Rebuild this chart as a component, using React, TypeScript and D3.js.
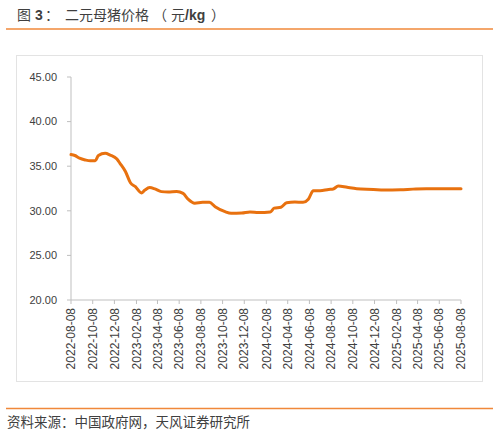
import React from "react";
import * as d3 from "d3";

const dates: string[] = [
  "2022-08-08","2022-08-19","2022-09-01","2022-09-17","2022-10-01","2022-10-15","2022-10-24",
  "2022-11-12","2022-11-26","2022-12-15","2022-12-24","2023-01-08","2023-01-22","2023-02-05",
  "2023-02-22","2023-03-03","2023-03-17","2023-04-01","2023-04-19","2023-05-08","2023-06-01",
  "2023-06-19","2023-07-03","2023-07-22","2023-08-13","2023-09-01","2023-09-17","2023-10-15",
  "2023-11-01","2023-12-01","2023-12-24","2024-01-17","2024-02-19","2024-03-01","2024-03-20",
  "2024-04-05","2024-04-28","2024-05-21","2024-06-05","2024-06-19","2024-07-08","2024-08-01",
  "2024-08-14","2024-08-28","2024-09-22","2024-10-19","2024-12-05","2025-01-03","2025-02-19",
  "2025-03-26","2025-05-03","2025-08-08"
];
const prices: number[] = [
  36.3,36.2,35.9,35.7,35.6,35.6,36.2,
  36.45,36.25,35.8,35.3,34.4,33.15,32.7,
  32.0,32.3,32.6,32.45,32.15,32.1,32.15,
  31.95,31.3,30.85,30.95,30.95,30.45,29.9,
  29.72,29.75,29.87,29.8,29.87,30.3,30.4,
  30.9,30.98,30.95,31.3,32.25,32.25,32.4,
  32.45,32.78,32.63,32.48,32.4,32.33,32.36,
  32.43,32.48,32.48
];
const xTickLabels: string[] = [
  "2022-08-08","2022-10-08","2022-12-08","2023-02-08","2023-04-08","2023-06-08","2023-08-08",
  "2023-10-08","2023-12-08","2024-02-08","2024-04-08","2024-06-08","2024-08-08","2024-10-08",
  "2024-12-08","2025-02-08","2025-04-08","2025-06-08","2025-08-08"
];
const yTicks: number[] = [20, 25, 30, 35, 40, 45];

const W = 499, H = 438;
const parse = d3.timeParse("%Y-%m-%d");

export default function App() {
  const x = d3.scaleTime()
    .domain([parse(xTickLabels[0])!, parse(xTickLabels[xTickLabels.length - 1])!])
    .range([71, 461]);
  const y = d3.scaleLinear().domain([20, 45]).range([300, 77]);
  const data = dates.map((d, i) => ({ d: parse(d)!, v: prices[i] }));
  const line = d3.line<{ d: Date; v: number }>()
    .x(p => x(p.d)).y(p => y(p.v)).curve(d3.curveMonotoneX);
  const axisColor = "#bfbfbf";
  const font = "'Liberation Sans', Arial, sans-serif";
  const cjk = "'Noto Sans CJK SC', sans-serif";
  const noTrim: any = { textSpacingTrim: "space-all" };
  return (
    <div style={{ position: "fixed", left: 0, top: 0 }}>
      <svg width={W} height={H} style={{ display: "block", background: "#fff" }}>
        <text y={20} fontSize={14} fill="#3f3f3f" fontFamily={cjk} style={noTrim}>
          <tspan x={17}>图</tspan>
          <tspan x={35} fontFamily={font} fontWeight={700}>3</tspan>
          <tspan x={45}>：</tspan>
          <tspan x={65}>二元母猪价格</tspan>
          <tspan x={153}>（</tspan>
          <tspan x={171}>元</tspan>
          <tspan x={185} fontFamily={font} fontWeight={700}>/kg</tspan>
          <tspan x={211}>）</tspan>
        </text>
        <line x1={6} x2={493} y1={29} y2={29} stroke="#f0883a" strokeWidth={1.5} />
        <rect x={16.5} y={55.5} width={466} height={326} fill="none" stroke="#e3e3e3" strokeWidth={1} />
        {/* y axis */}
        <line x1={71} x2={71} y1={y(45)} y2={y(20)} stroke={axisColor} strokeWidth={1} />
        {yTicks.map(t => (
          <g key={t}>
            <line x1={67} x2={71} y1={y(t)} y2={y(t)} stroke={axisColor} />
            <text x={57} y={y(t)} dy="0.35em" textAnchor="end" fontSize={11} fill="#404040" fontFamily={font}>
              {t.toFixed(2)}
            </text>
          </g>
        ))}
        {/* x axis */}
        <line x1={71} x2={461} y1={y(20)} y2={y(20)} stroke={axisColor} strokeWidth={1} />
        {xTickLabels.map(l => {
          const px = x(parse(l)!);
          return (
            <g key={l}>
              <line x1={px} x2={px} y1={y(20)} y2={y(20) + 4} stroke={axisColor} />
              <text transform={`translate(${px},${y(20) + 8}) rotate(-90)`} dy="0.35em" textAnchor="end"
                fontSize={12} fill="#404040" fontFamily={font}>
                {l}
              </text>
            </g>
          );
        })}
        <path d={line(data) || ""} fill="none" stroke="#e8710f" strokeWidth={3} strokeLinejoin="round" strokeLinecap="round" />
        <line x1={6} x2={493} y1={408.5} y2={408.5} stroke="#f0883a" strokeWidth={1.5} />
        <text x={7} y={427} fontSize={13.5} fill="#404040" fontFamily={cjk} style={noTrim}>
          资料来源：中国政府网，天风证券研究所
        </text>
      </svg>
    </div>
  );
}
